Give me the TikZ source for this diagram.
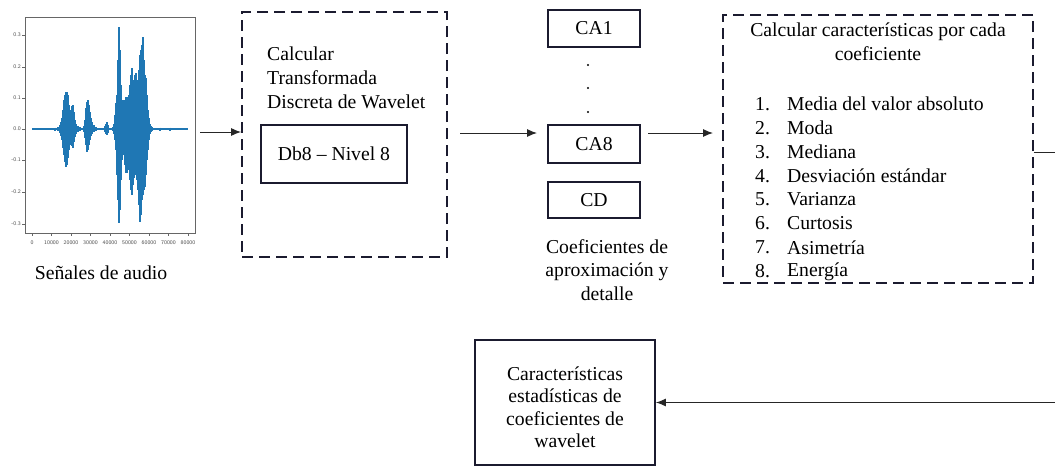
\documentclass[tikz,border=0pt]{standalone}
\usepackage{fontspec}
\setmainfont{Liberation Serif}
\usetikzlibrary{arrows.meta}
\definecolor{wave}{HTML}{1F77B4}
\definecolor{boxc}{HTML}{1B1B2F}
\begin{document}
\begin{tikzpicture}[x=1pt,y=-1pt,
 txt/.style={font=\fontsize{19.7}{23.7}\selectfont, inner sep=0pt},
 solidbox/.style={draw=boxc, line width=1.8pt, inner sep=0pt},
 dashbox/.style={draw=boxc, line width=1.8pt, dash pattern=on 11pt off 6pt, inner sep=0pt},
 conn/.style={draw=black!85, line width=1pt, -{Latex[length=10pt,width=8pt]}},
 ticklab/.style={font=\sffamily\fontsize{5.5}{6}\selectfont, text=black!70, inner sep=0pt},
 wv/.style={draw=wave, line width=1.3pt}]
\useasboundingbox (0,0) rectangle (1055,466);
\fill[white] (0,0) rectangle (1055,466);

% ---------- audio plot ----------
\node (plot) [draw=black!60, line width=0.7pt, minimum width=170pt, minimum height=216pt, inner sep=0pt] at (110,125) {};
\foreach \v/\yy in {0.3/35,0.2/67,0.1/98,0.0/129,-0.1/160,-0.2/192,-0.3/224} {
  \draw[black!60, line width=0.5pt] (22,\yy) -- (25,\yy);
  \node[ticklab, anchor=east] at (21,\yy) {\v};
}
\foreach \v [count=\k from 0] in {0,10000,20000,30000,40000,50000,60000,70000,80000} {
  \draw[black!60, line width=0.5pt] (32+19.5*\k,233) -- (32+19.5*\k,236);
  \node[ticklab] at (32+19.5*\k,243) {\v};
}
\draw[wave, line width=1.6pt] (32,129) -- (188,129);
\foreach \x/\t/\b in {
 55/127.5/130.5, 58/127/131, 60/125/133, 61/122/136, 62/118/140, 63/110/148, 64/100/155,
 65/95/162, 66/92/167, 67/92/165, 68/95/158, 69/105/150, 70/112/145, 71/110/142,
 72/106/146, 73/105/148, 74/112/142, 75/120/137, 76/124/134, 78/126/132, 80/127/131,
 84/126/132, 85/120/138, 86/108/145, 87/102/152, 88/100/150, 89/105/145, 90/112/140,
 91/118/136, 92/122/134, 94/125/132, 96/127/131,
 105/126/132, 106/124/134, 107/122/135, 108/125/133,
 113/127/131, 114/124/134, 115/115/140, 116/103/150, 117/95/175, 118/60/200, 119/27/223,
 120/50/210, 121/85/180, 122/100/160, 123/105/150, 124/100/155, 125/100/165, 126/97/173,
 127/97/173, 128/100/165, 129/95/170, 130/85/180, 131/75/190, 132/68/195, 133/80/185,
 134/80/178, 135/75/175, 136/73/173, 137/80/180, 138/85/190, 139/70/205, 140/55/222,
 141/50/215, 142/45/200, 143/37/195, 144/60/190, 145/75/187, 146/78/175, 147/95/160,
 148/110/150, 149/118/140, 150/124/134, 151/126/132, 152/127/131, 160/127.5/130.5, 170/127.5/130.5}
 { \draw[wv] (\x,\t) -- (\x,\b); }
\node[txt] (lblaudio) at (101,273) {Señales de audio};

% ---------- DWT box ----------
\node (dwt) [dashbox, minimum width=205pt, minimum height=245pt] at (344.5,134.5) {};
\node[txt, align=left, anchor=north west] (dwttxt) at (267,47) {Calcular\\Transformada\\Discreta de Wavelet};
\node (db8) [solidbox, txt, minimum width=146pt, minimum height=58pt] at (334,154) {Db8 – Nivel 8};

% ---------- coefficients ----------
\node (ca1) [solidbox, txt, minimum width=92pt, minimum height=37pt] at (594,28.5) {CA1};
\node (ca8) [solidbox, txt, minimum width=92pt, minimum height=38pt] at (594,144) {CA8};
\node (cd)  [solidbox, txt, minimum width=92pt, minimum height=36pt] at (594,200) {CD};
\foreach \yy in {65,88,112} { \fill[black] (588,\yy) circle (1.1pt); }
\node[txt, align=center] (coeflbl) at (607,270) {Coeficientes de\\aproximación y\\detalle};

% ---------- features box ----------
\node (feat) [dashbox, minimum width=310pt, minimum height=268pt] at (878,149) {};
\node[txt, align=center] (feattitle) at (878,41.5) {Calcular características por cada\\coeficiente};
\foreach \item [count=\k from 0] in {Media del valor absoluto,Moda,Mediana,Desviación estándar,Varianza,Curtosis,Asimetría,Energía} {
  \pgfmathtruncatemacro{\num}{\k+1}
  \node[txt, anchor=west] at (755,104+23.9*\k) {\num.};
  \node[txt, anchor=west] at (787,104+23.9*\k) {\item};
}

% ---------- result box ----------
\node (res) [solidbox, minimum width=180pt, minimum height=125pt] at (565,402.5) {};
\node[inner sep=0pt, align=center, font=\fontsize{19.7}{22.5}\selectfont] (restxt) at (565,407) {Características\\estadísticas de\\coeficientes de\\wavelet};

% ---------- connectors ----------
\coordinate (a1s) at (200,132);
\draw[conn] (a1s) -- (dwt.west |- a1s);
\coordinate (a2s) at (460,133);
\coordinate (a2e) at (537,133);
\draw[conn] (a2s) -- (a2e);
\coordinate (a3s) at (648,133);
\coordinate (a3e) at (713,133);
\draw[conn] (a3s) -- (a3e);
\coordinate (fr) at (1064,152);
\draw[conn] (feat.east |- fr) -- (fr) -- (fr |- res.east) -- (res.east);
\end{tikzpicture}
\end{document}
